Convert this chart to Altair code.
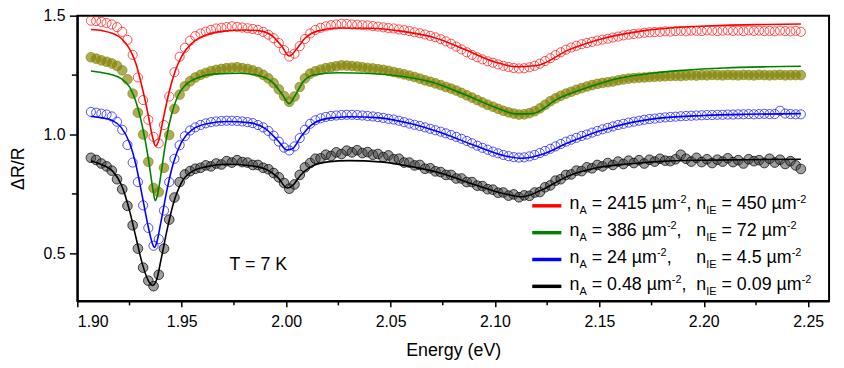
import altair as alt
import pandas as pd

# ---------------- data ----------------
E_START = 1.9065
E_STEP = 0.0025

RED_DATA = [1.479, 1.477, 1.474, 1.469, 1.463, 1.452, 1.432, 1.398, 1.335, 1.24,
            1.145, 1.062, 0.99, 0.963, 1.04, 1.16, 1.262, 1.327, 1.365, 1.395,
            1.414, 1.425, 1.433, 1.44, 1.446, 1.449, 1.452, 1.455, 1.453, 1.45,
            1.447, 1.444, 1.44, 1.432, 1.42, 1.405, 1.385, 1.355, 1.328, 1.34,
            1.372, 1.402, 1.425, 1.44, 1.449, 1.455, 1.46, 1.463, 1.466, 1.465,
            1.463, 1.462, 1.46, 1.459, 1.456, 1.454, 1.451, 1.448, 1.446, 1.442,
            1.439, 1.435, 1.43, 1.426, 1.421, 1.415, 1.409, 1.401, 1.392, 1.382,
            1.37, 1.358, 1.346, 1.335, 1.325, 1.316, 1.308, 1.302, 1.295, 1.289,
            1.284, 1.28, 1.278, 1.279, 1.283, 1.289, 1.298, 1.309, 1.321, 1.334,
            1.346, 1.357, 1.366, 1.373, 1.38, 1.385, 1.39, 1.395, 1.399, 1.403,
            1.408, 1.412, 1.417, 1.42, 1.423, 1.425, 1.428, 1.43, 1.431, 1.432,
            1.434, 1.433, 1.435, 1.436, 1.434, 1.437, 1.436, 1.435, 1.438, 1.437,
            1.435, 1.437, 1.438, 1.436, 1.437, 1.435, 1.438, 1.436, 1.437, 1.435,
            1.436, 1.434, 1.437, 1.435, 1.434, 1.436, 1.432]

OLIVE_DATA = [1.325, 1.319, 1.312, 1.306, 1.299, 1.289, 1.27, 1.232, 1.172, 1.092,
              1.0, 0.885, 0.775, 0.758, 0.86, 0.998, 1.108, 1.168, 1.203, 1.224,
              1.24, 1.251, 1.259, 1.267, 1.272, 1.276, 1.279, 1.281, 1.283, 1.279,
              1.276, 1.27, 1.263, 1.251, 1.236, 1.216, 1.19, 1.162, 1.138, 1.16,
              1.2, 1.236, 1.256, 1.266, 1.273, 1.279, 1.283, 1.287, 1.291, 1.29,
              1.288, 1.286, 1.283, 1.28, 1.278, 1.275, 1.272, 1.268, 1.263, 1.258,
              1.253, 1.248, 1.242, 1.235, 1.228, 1.222, 1.215, 1.208, 1.2, 1.193,
              1.185, 1.175, 1.165, 1.155, 1.145, 1.135, 1.125, 1.117, 1.108, 1.1,
              1.093, 1.088, 1.084, 1.085, 1.09, 1.098, 1.11, 1.125, 1.14, 1.152,
              1.163, 1.172, 1.18, 1.188, 1.195, 1.202, 1.208, 1.213, 1.217, 1.22,
              1.223, 1.228, 1.232, 1.235, 1.237, 1.239, 1.24, 1.242, 1.243, 1.244,
              1.245, 1.246, 1.247, 1.246, 1.248, 1.249, 1.248, 1.25, 1.249, 1.251,
              1.25, 1.249, 1.251, 1.25, 1.249, 1.251, 1.25, 1.249, 1.251, 1.25,
              1.249, 1.25, 1.251, 1.249, 1.25, 1.25, 1.25]

BLUE_DATA = [1.095, 1.092, 1.088, 1.084, 1.076, 1.054, 1.02, 0.956, 0.882, 0.8,
             0.702, 0.607, 0.532, 0.56, 0.68, 0.8, 0.898, 0.955, 0.993, 1.017,
             1.03, 1.04, 1.047, 1.052, 1.055, 1.057, 1.058, 1.058, 1.057, 1.055,
             1.052, 1.048, 1.04, 1.03, 1.015, 0.995, 0.97, 0.945, 0.933, 0.95,
             0.985, 1.02, 1.045, 1.06, 1.068, 1.074, 1.078, 1.08, 1.082, 1.083,
             1.083, 1.082, 1.08, 1.078, 1.076, 1.073, 1.07, 1.066, 1.063, 1.058,
             1.052, 1.046, 1.041, 1.036, 1.03, 1.024, 1.018, 1.012, 1.005, 0.998,
             0.99, 0.982, 0.973, 0.963, 0.953, 0.944, 0.936, 0.928, 0.921, 0.914,
             0.909, 0.905, 0.903, 0.904, 0.908, 0.914, 0.922, 0.931, 0.94, 0.95,
             0.96, 0.97, 0.978, 0.986, 0.994, 1.0, 1.008, 1.015, 1.022, 1.028,
             1.034, 1.04, 1.045, 1.05, 1.054, 1.058, 1.062, 1.065, 1.067, 1.07,
             1.072, 1.074, 1.075, 1.077, 1.078, 1.079, 1.08, 1.081, 1.082, 1.082,
             1.083, 1.083, 1.084, 1.084, 1.085, 1.085, 1.086, 1.085, 1.086, 1.087,
             1.086, 1.086, 1.1, 1.088, 1.086, 1.085, 1.085]

BLACK_DATA = [0.902, 0.893, 0.878, 0.866, 0.848, 0.812, 0.77, 0.7, 0.618, 0.52,
              0.44, 0.385, 0.362, 0.41, 0.52, 0.642, 0.735, 0.8, 0.832, 0.846,
              0.856, 0.86, 0.87, 0.866, 0.878, 0.874, 0.888, 0.882, 0.892, 0.884,
              0.882, 0.872, 0.872, 0.86, 0.854, 0.838, 0.82, 0.796, 0.772, 0.79,
              0.83, 0.862, 0.88, 0.898, 0.9, 0.915, 0.91, 0.925, 0.918, 0.932,
              0.925, 0.934, 0.922, 0.926, 0.915, 0.918, 0.905, 0.912, 0.896, 0.898,
              0.882, 0.882, 0.87, 0.872, 0.856, 0.858, 0.845, 0.842, 0.83, 0.83,
              0.815, 0.815, 0.8, 0.8, 0.785, 0.783, 0.77, 0.768, 0.755, 0.756,
              0.743, 0.748, 0.736, 0.744, 0.742, 0.756, 0.758, 0.778, 0.786, 0.806,
              0.812, 0.83, 0.832, 0.848, 0.846, 0.862, 0.858, 0.872, 0.866, 0.88,
              0.872, 0.886, 0.876, 0.89, 0.88, 0.892, 0.878, 0.894, 0.886, 0.898,
              0.89, 0.888, 0.896, 0.915, 0.898, 0.886, 0.902, 0.884, 0.896, 0.88,
              0.894, 0.886, 0.9, 0.884, 0.892, 0.878, 0.896, 0.888, 0.892, 0.88,
              0.898, 0.882, 0.894, 0.876, 0.888, 0.87, 0.855]

RED_FIT_E = [1.9065, 1.912, 1.917, 1.921, 1.925, 1.928, 1.931, 1.934, 1.936, 1.9375,
             1.939, 1.941, 1.944, 1.947, 1.950, 1.955, 1.962, 1.970, 1.980, 1.988,
             1.994, 1.998, 2.0015, 2.005, 2.009, 2.015, 2.025, 2.040, 2.055, 2.070,
             2.085, 2.100, 2.110, 2.120, 2.135, 2.150, 2.170, 2.190, 2.210, 2.230, 2.2465]
RED_FIT = [1.442, 1.437, 1.425, 1.405, 1.36, 1.30, 1.20, 1.08, 0.99, 0.952,
           0.975, 1.06, 1.18, 1.27, 1.33, 1.385, 1.42, 1.435, 1.44, 1.435,
           1.41, 1.37, 1.33, 1.36, 1.405, 1.435, 1.448, 1.447, 1.435, 1.41,
           1.36, 1.305, 1.285, 1.29, 1.355, 1.40, 1.435, 1.452, 1.46, 1.463, 1.465]

GREEN_FIT_E = [1.9065, 1.912, 1.917, 1.921, 1.925, 1.928, 1.931, 1.934, 1.936, 1.9373,
               1.9385, 1.940, 1.942, 1.945, 1.948, 1.952, 1.958, 1.966, 1.978, 1.988,
               1.994, 1.998, 2.0015, 2.004, 2.008, 2.013, 2.025, 2.040, 2.055, 2.070,
               2.085, 2.100, 2.110, 2.118, 2.130, 2.145, 2.160, 2.175, 2.190, 2.210,
               2.230, 2.2465]
GREEN_FIT = [1.267, 1.26, 1.25, 1.235, 1.2, 1.14, 1.04, 0.90, 0.78, 0.722,
             0.75, 0.83, 0.95, 1.08, 1.16, 1.21, 1.24, 1.255, 1.258, 1.245,
             1.215, 1.17, 1.13, 1.16, 1.22, 1.25, 1.26, 1.257, 1.245, 1.22,
             1.17, 1.115, 1.087, 1.088, 1.15, 1.20, 1.238, 1.258, 1.27, 1.28,
             1.285, 1.2875]

BLUE_FIT_E = [1.9065, 1.912, 1.917, 1.921, 1.925, 1.928, 1.931, 1.934, 1.936, 1.937,
              1.938, 1.940, 1.943, 1.946, 1.950, 1.955, 1.962, 1.972, 1.982, 1.990,
              1.996, 2.0005, 2.003, 2.007, 2.012, 2.020, 2.030, 2.045, 2.060, 2.075,
              2.090, 2.105, 2.113, 2.122, 2.135, 2.150, 2.165, 2.180, 2.200, 2.220, 2.2465]
BLUE_FIT = [1.076, 1.07, 1.058, 1.03, 0.965, 0.875, 0.745, 0.61, 0.54, 0.525,
            0.545, 0.63, 0.77, 0.88, 0.97, 1.02, 1.045, 1.055, 1.05, 1.025,
            0.975, 0.935, 0.94, 0.99, 1.04, 1.068, 1.075, 1.07, 1.045, 1.005,
            0.955, 0.91, 0.9, 0.915, 0.965, 1.015, 1.05, 1.07, 1.08, 1.085, 1.088]

BLACK_FIT_E = [1.9065, 1.912, 1.917, 1.921, 1.925, 1.928, 1.931, 1.934, 1.936, 1.938,
               1.940, 1.943, 1.946, 1.950, 1.955, 1.962, 1.972, 1.982, 1.990, 1.996,
               2.0005, 2.003, 2.007, 2.012, 2.020, 2.030, 2.045, 2.060, 2.075, 2.090,
               2.105, 2.113, 2.122, 2.135, 2.150, 2.165, 2.180, 2.200, 2.220, 2.2465]
BLACK_FIT = [0.89, 0.872, 0.845, 0.79, 0.68, 0.57, 0.46, 0.385, 0.365, 0.39,
             0.47, 0.6, 0.71, 0.8, 0.845, 0.865, 0.875, 0.87, 0.855, 0.82,
             0.775, 0.785, 0.83, 0.865, 0.885, 0.89, 0.885, 0.865, 0.835, 0.79,
             0.75, 0.738, 0.765, 0.825, 0.862, 0.877, 0.887, 0.892, 0.894, 0.896]

LEGEND_NA = ["2415", "386", "24", "0.48"]
LEGEND_NIE = ["450", "72", "4.5", "0.09"]
LEGEND_COLORS = ["#ff0000", "#008000", "#0000ff", "#000000"]

X_TICKS = [1.90, 1.95, 2.00, 2.05, 2.10, 2.15, 2.20, 2.25]
X_MINOR = [1.925, 1.975, 2.025, 2.075, 2.125, 2.175, 2.225]
Y_TICKS = [0.5, 1.0, 1.5]
Y_MINOR = [0.75, 1.25]

# ---------------- layout ----------------
W, H = 759, 288
FONT = "Liberation Sans"
XS = alt.Scale(domain=[1.90, 2.26], nice=False, zero=False)
YS = alt.Scale(domain=[0.30, 1.50], nice=False, zero=False)

X_AXIS = alt.Axis(values=X_TICKS, format=".2f", tickSize=6, labelPadding=7,
                  titleY=55.6, titleBaseline="alphabetic")
Y_AXIS = alt.Axis(values=Y_TICKS, format=".1f", tickSize=8, labelPadding=4.5,
                  titleAngle=270, titleX=-54, titleY=154,
                  titleBaseline="alphabetic", titleAlign="center")


def xenc():
    return alt.X("energy:Q", scale=XS, title="Energy (eV)", axis=X_AXIS)


def yenc():
    return alt.Y("r:Q", scale=YS, title="ΔR/R", axis=Y_AXIS)


energy = [round(E_START + E_STEP * i, 4) for i in range(len(RED_DATA))]


def series_df(ys, xs=None):
    return pd.DataFrame({"energy": xs if xs is not None else energy, "r": ys})


def points(ys, **style):
    return alt.Chart(series_df(ys)).mark_point(shape="circle", **style).encode(
        x=xenc(), y=yenc())


def fit(xs, ys, color):
    return alt.Chart(series_df(ys, xs)).mark_line(
        interpolate="monotone", color=color, strokeWidth=1.6
    ).encode(x=xenc(), y=yenc())


olive_pts = points(OLIVE_DATA, size=95, filled=True, fill="#808000", fillOpacity=0.65,
                   stroke="#8a8a10", strokeOpacity=0.9, strokeWidth=0.8)
black_pts = points(BLACK_DATA, size=95, filled=True, fill="#404040", fillOpacity=0.5,
                   stroke="#000000", strokeOpacity=0.8, strokeWidth=0.9)
blue_pts = points(BLUE_DATA, size=85, filled=False, color="#0000ff", strokeWidth=0.8,
                  opacity=0.85)
red_pts = points(RED_DATA, size=85, filled=False, color="#ff0000", strokeWidth=0.8,
                 opacity=0.85)

fits = [fit(BLACK_FIT_E, BLACK_FIT, "#000000"), fit(BLUE_FIT_E, BLUE_FIT, "#0000ff"),
        fit(GREEN_FIT_E, GREEN_FIT, "#008000"), fit(RED_FIT_E, RED_FIT, "#ff0000")]

x_minor = alt.Chart(pd.DataFrame({"energy": X_MINOR})).mark_rule(
    color="black", strokeWidth=1.5).encode(
    x=xenc(), y=alt.value(H), y2=alt.value(H + 4.5))
y_minor = alt.Chart(pd.DataFrame({"r": Y_MINOR})).mark_rule(
    color="black", strokeWidth=1.5).encode(
    y=yenc(), x=alt.value(-5.5), x2=alt.value(0))

# ---------------- legend built from text pieces ----------------
ADV = {"n": 556, "A": 667, "I": 278, "E": 667, " ": 278, "=": 584, ".": 278,
       "µ": 576, "m": 833, ",": 278, "-": 333}
for d in "0123456789":
    ADV[d] = 556


def tw(s, size):
    return sum(ADV.get(c, 556) for c in s) * size / 1000.0


F_MAIN, F_SMALL = 18, 11
SPACE = tw(" ", F_MAIN)
LINE_X0, LINE_X1 = 459.3, 488.7
COL_A, COL_B = 497, 625
ROW_Y0, ROW_STEP = 192, 27.1

legend_layers = []
for i, (na, nie, col) in enumerate(zip(LEGEND_NA, LEGEND_NIE, LEGEND_COLORS)):
    ly = ROW_Y0 + i * ROW_STEP
    base = ly + 3.2
    legend_layers.append(
        alt.Chart(pd.DataFrame({"k": [0]})).mark_rule(color=col, strokeWidth=3.5).encode(
            x=alt.value(LINE_X0), x2=alt.value(LINE_X1), y=alt.value(ly)))
    pieces = []
    for x0, parts in ((COL_A, [("n", "m", 0), ("A", "sub", 0), (f"= {na} µm", "m", SPACE),
                               ("-2", "sup", 0), (",", "m", 0)]),
                      (COL_B, [("n", "m", 0), ("IE", "sub", 0), (f"= {nie} µm", "m", SPACE),
                               ("-2", "sup", 0)])):
        x = x0
        for txt, kind, lead in parts:
            fs = F_MAIN if kind == "m" else F_SMALL
            yy = base + (5.5 if kind == "sub" else (-6.5 if kind == "sup" else 0))
            x += lead
            pieces.append((txt, x, yy, fs))
            x += tw(txt, fs)
    for txt, x, yy, fs in pieces:
        legend_layers.append(
            alt.Chart(pd.DataFrame({"t": [txt]})).mark_text(
                align="left", baseline="alphabetic", font=FONT, fontSize=fs, color="black"
            ).encode(x=alt.value(x), y=alt.value(yy), text="t:N"))

temp_label = alt.Chart(pd.DataFrame({"t": ["T = 7 K"]})).mark_text(
    align="left", baseline="alphabetic", font=FONT, fontSize=18, color="black"
).encode(x=alt.value(153.7), y=alt.value(256.7), text="t:N")

chart = alt.layer(
    olive_pts, black_pts, blue_pts, red_pts, *fits, x_minor, y_minor,
    *legend_layers, temp_label
).properties(
    width=W, height=H,
    autosize=alt.AutoSizeParams(type="none"),
    padding={"left": 70, "top": 6, "right": 7, "bottom": 66},
).configure_axis(
    grid=False, domainColor="black", domainWidth=2, tickColor="black", tickWidth=1.5,
    labelColor="black", titleColor="black", labelFont=FONT, titleFont=FONT,
    labelFontSize=16, titleFontSize=18, titleFontWeight="normal",
).configure_view(stroke="black", strokeWidth=2)

chart.save("out.html", embed_options={"renderer": "svg", "actions": False})
